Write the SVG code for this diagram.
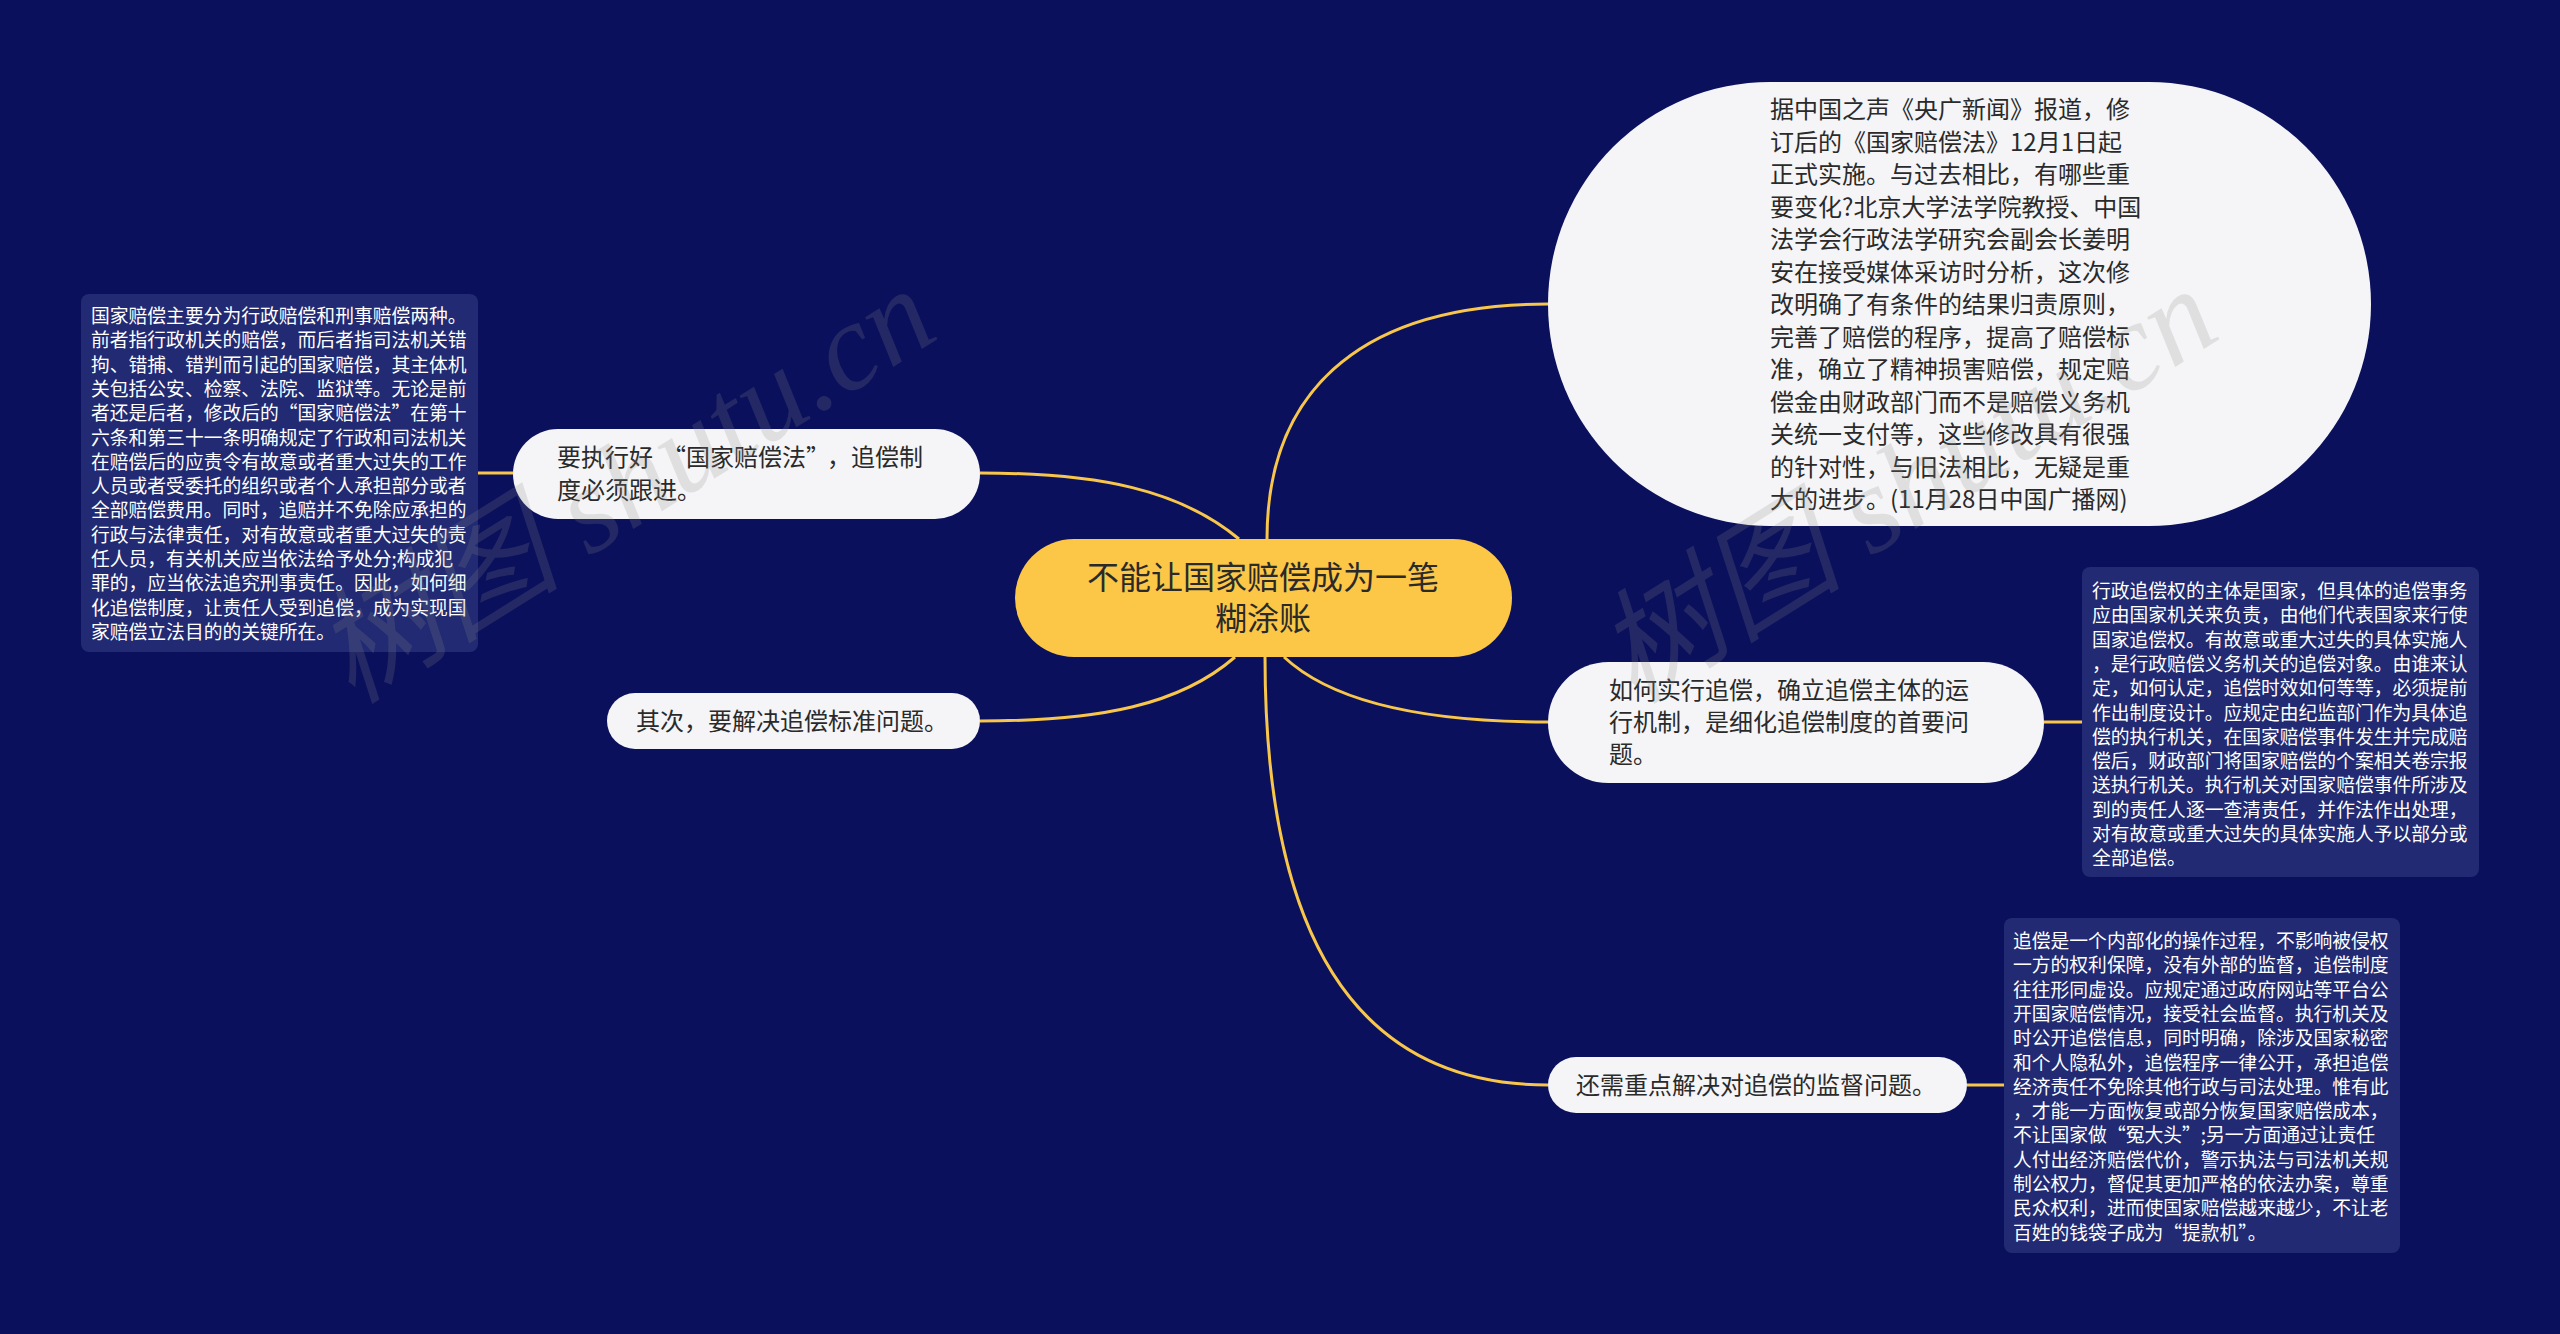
<svg xmlns="http://www.w3.org/2000/svg" width="2560" height="1334" viewBox="0 0 2560 1334">
<style>
.bg{fill:#0a105c}
.link{fill:none;stroke:#f7c64b;stroke-width:3}
.topic{fill:#f5f5f7}
.root{fill:#fcc646}
.note{fill:#212a72}
.t{font-family:"Noto Sans CJK SC","Noto Sans",sans-serif;fill:#2a2a2a}
.t24{font-size:24px}
.t32{font-size:32px}
.n{font-family:"Noto Sans CJK SC","Noto Sans",sans-serif;font-size:18.8px;fill:#ffffff}
.wm{font-family:"Liberation Serif","Noto Sans CJK SC",serif;font-style:italic;font-size:124px;fill:#8a8a8a;opacity:0.2}
</style>
<rect class="bg" x="0" y="0" width="2560" height="1334"/>

<g id="connectors">
<path class="link" d="M980,473 C1100,473 1180,490 1239,539"/>
<path class="link" d="M980,721 C1100,721 1180,705 1235,657"/>
<path class="link" d="M1267,539 C1267,400 1350,304 1548,304"/>
<path class="link" d="M1284,657 C1330,700 1420,722 1548,722"/>
<path class="link" d="M1265,657 Q1265,1085 1548,1085"/>
<path class="link" d="M478,473 L513,473"/>
<path class="link" d="M2044,722 L2082,722"/>
<path class="link" d="M1967,1085 L2004,1085"/>
</g>

<g id="root">
<rect class="root" x="1015" y="539" width="497" height="118" rx="59"/>
<text class="t t32" text-anchor="middle"><tspan x="1263" y="589">不能让国家赔偿成为一笔</tspan><tspan x="1263" y="630">糊涂账</tspan></text>
</g>

<g id="node-news">
<rect class="topic" x="1548" y="82" width="823" height="444" rx="222"/>
<text class="t t24">
<tspan x="1770" y="118">据中国之声《央广新闻》报道，修</tspan>
<tspan x="1770" y="150.5">订后的《国家赔偿法》12月1日起</tspan>
<tspan x="1770" y="183">正式实施。与过去相比，有哪些重</tspan>
<tspan x="1770" y="215.5">要变化?北京大学法学院教授、中国</tspan>
<tspan x="1770" y="248">法学会行政法学研究会副会长姜明</tspan>
<tspan x="1770" y="280.5">安在接受媒体采访时分析，这次修</tspan>
<tspan x="1770" y="313">改明确了有条件的结果归责原则，</tspan>
<tspan x="1770" y="345.5">完善了赔偿的程序，提高了赔偿标</tspan>
<tspan x="1770" y="378">准，确立了精神损害赔偿，规定赔</tspan>
<tspan x="1770" y="410.5">偿金由财政部门而不是赔偿义务机</tspan>
<tspan x="1770" y="443">关统一支付等，这些修改具有很强</tspan>
<tspan x="1770" y="475.5">的针对性，与旧法相比，无疑是重</tspan>
<tspan x="1770" y="508">大的进步。(11月28日中国广播网)</tspan>
</text>
</g>

<g id="node-law">
<rect class="topic" x="513" y="429" width="467" height="90" rx="45"/>
<text class="t t24"><tspan x="557" y="466">要执行好<tspan dx="9">“</tspan>国家赔偿法”<tspan dx="9">，</tspan>追偿制</tspan><tspan x="557" y="499">度必须跟进。</tspan></text>
</g>

<g id="note-law">
<rect class="note" x="81" y="294" width="397" height="358" rx="8"/>
<text class="n">
<tspan x="91" y="323">国家赔偿主要分为行政赔偿和刑事赔偿两种。</tspan>
<tspan x="91" y="347.3">前者指行政机关的赔偿，而后者指司法机关错</tspan>
<tspan x="91" y="371.6">拘、错捕、错判而引起的国家赔偿，其主体机</tspan>
<tspan x="91" y="395.9">关包括公安、检察、法院、监狱等。无论是前</tspan>
<tspan x="91" y="420.2">者还是后者，修改后的“国家赔偿法”在第十</tspan>
<tspan x="91" y="444.5">六条和第三十一条明确规定了行政和司法机关</tspan>
<tspan x="91" y="468.8">在赔偿后的应责令有故意或者重大过失的工作</tspan>
<tspan x="91" y="493.1">人员或者受委托的组织或者个人承担部分或者</tspan>
<tspan x="91" y="517.4">全部赔偿费用。同时，追赔并不免除应承担的</tspan>
<tspan x="91" y="541.7">行政与法律责任，对有故意或者重大过失的责</tspan>
<tspan x="91" y="566">任人员，有关机关应当依法给予处分;构成犯</tspan>
<tspan x="91" y="590.3">罪的，应当依法追究刑事责任。因此，如何细</tspan>
<tspan x="91" y="614.6">化追偿制度，让责任人受到追偿，成为实现国</tspan>
<tspan x="91" y="638.9">家赔偿立法目的的关键所在。</tspan>
</text>
</g>

<g id="node-standard">
<rect class="topic" x="607" y="693" width="373" height="56" rx="28"/>
<text class="t t24" x="636" y="730">其次，要解决追偿标准问题。</text>
</g>

<g id="node-mechanism">
<rect class="topic" x="1548" y="662" width="496" height="121" rx="60.5"/>
<text class="t t24"><tspan x="1609" y="699">如何实行追偿，确立追偿主体的运</tspan><tspan x="1609" y="731">行机制，是细化追偿制度的首要问</tspan><tspan x="1609" y="763">题。</tspan></text>
</g>

<g id="note-mechanism">
<rect class="note" x="2082" y="567" width="397" height="310" rx="8"/>
<text class="n">
<tspan x="2092" y="598">行政追偿权的主体是国家，但具体的追偿事务</tspan>
<tspan x="2092" y="622.3">应由国家机关来负责，由他们代表国家来行使</tspan>
<tspan x="2092" y="646.6">国家追偿权。有故意或重大过失的具体实施人</tspan>
<tspan x="2092" y="670.9">，是行政赔偿义务机关的追偿对象。由谁来认</tspan>
<tspan x="2092" y="695.2">定，如何认定，追偿时效如何等等，必须提前</tspan>
<tspan x="2092" y="719.5">作出制度设计。应规定由纪监部门作为具体追</tspan>
<tspan x="2092" y="743.8">偿的执行机关，在国家赔偿事件发生并完成赔</tspan>
<tspan x="2092" y="768.1">偿后，财政部门将国家赔偿的个案相关卷宗报</tspan>
<tspan x="2092" y="792.4">送执行机关。执行机关对国家赔偿事件所涉及</tspan>
<tspan x="2092" y="816.7">到的责任人逐一查清责任，并作法作出处理，</tspan>
<tspan x="2092" y="841">对有故意或重大过失的具体实施人予以部分或</tspan>
<tspan x="2092" y="865.3">全部追偿。</tspan>
</text>
</g>

<g id="node-supervision">
<rect class="topic" x="1548" y="1057" width="419" height="56" rx="28"/>
<text class="t t24" x="1576" y="1094">还需重点解决对追偿的监督问题。</text>
</g>

<g id="note-supervision">
<rect class="note" x="2004" y="918" width="396" height="335" rx="8"/>
<text class="n">
<tspan x="2013" y="948">追偿是一个内部化的操作过程，不影响被侵权</tspan>
<tspan x="2013" y="972.3">一方的权利保障，没有外部的监督，追偿制度</tspan>
<tspan x="2013" y="996.6">往往形同虚设。应规定通过政府网站等平台公</tspan>
<tspan x="2013" y="1020.9">开国家赔偿情况，接受社会监督。执行机关及</tspan>
<tspan x="2013" y="1045.2">时公开追偿信息，同时明确，除涉及国家秘密</tspan>
<tspan x="2013" y="1069.5">和个人隐私外，追偿程序一律公开，承担追偿</tspan>
<tspan x="2013" y="1093.8">经济责任不免除其他行政与司法处理。惟有此</tspan>
<tspan x="2013" y="1118.1">，才能一方面恢复或部分恢复国家赔偿成本，</tspan>
<tspan x="2013" y="1142.4">不让国家做“冤大头”;另一方面通过让责任</tspan>
<tspan x="2013" y="1166.7">人付出经济赔偿代价，警示执法与司法机关规</tspan>
<tspan x="2013" y="1191">制公权力，督促其更加严格的依法办案，尊重</tspan>
<tspan x="2013" y="1215.3">民众权利，进而使国家赔偿越来越少，不让老</tspan>
<tspan x="2013" y="1239.6">百姓的钱袋子成为“提款机”。</tspan>
</text>
</g>

<g id="watermarks">
<text class="wm" transform="translate(352,705) rotate(-32)">树图 shutu.cn</text>
<text class="wm" transform="translate(1634,705) rotate(-32)">树图 shutu.cn</text>
</g>
</svg>
